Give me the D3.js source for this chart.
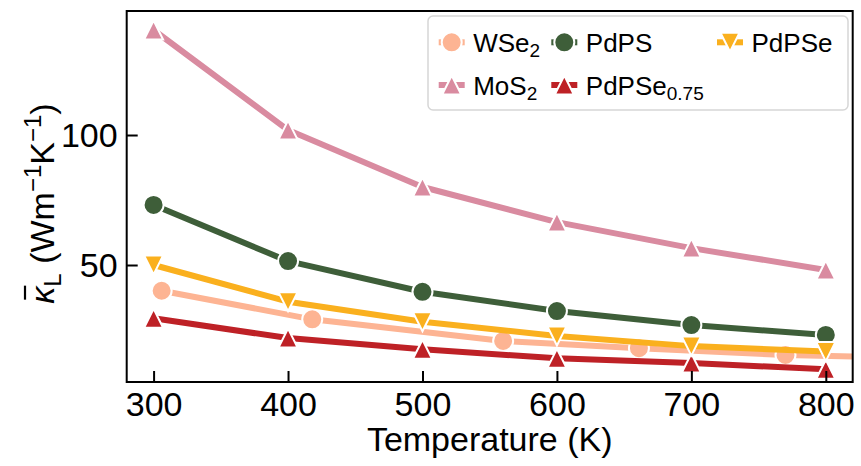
<!DOCTYPE html>
<html>
<head>
<meta charset="utf-8">
<script src="https://cdn.jsdelivr.net/npm/d3@7"></script>
<style>
  html, body { margin: 0; padding: 0; background: #fff; }
  svg text { font-family: "Liberation Sans", Arial, Helvetica, sans-serif; }
</style>
</head>
<body>
<svg id="chart" width="861" height="466"></svg>
<script>
// ---- data ----
const temps = [300, 400, 500, 600, 700, 800];
const wse2T = [306, 418, 560, 661, 770, 880];
const wse2K = [40.1, 29.1, 20.8, 18.0, 15.4, 14.0];
const mos2K = [140.4, 101.9, 80.0, 66.5, 56.5, 48.1];
const pdpsK = [73.1, 51.5, 39.7, 32.3, 26.9, 23.1];
const pdpse75K = [29.5, 21.9, 17.6, 14.1, 12.3, 9.9];
const pdpseK = [50.0, 35.9, 28.2, 22.7, 18.8, 16.7];
const xTicks = [300, 400, 500, 600, 700, 800];
const yTicks = [50, 100];

const series = [
  { name: "WSe", sub: "2", color: "#fdb493", marker: "circle", xs: wse2T, ys: wse2K, col: 0, row: 0 },
  { name: "MoS", sub: "2", color: "#d98ba0", marker: "up", xs: temps, ys: mos2K, col: 0, row: 1 },
  { name: "PdPS", sub: "", color: "#3e5e39", marker: "circle", xs: temps, ys: pdpsK, col: 1, row: 0 },
  { name: "PdPSe", sub: "0.75", color: "#be2126", marker: "up", xs: temps, ys: pdpse75K, col: 1, row: 1 },
  { name: "PdPSe", sub: "", color: "#fab01e", marker: "down", xs: temps, ys: pdpseK, col: 2, row: 0 }
];

// ---- layout ----
const L = 126.7, R = 852.7, T = 11, B = 382;
const svg = d3.select("#chart");
const x = d3.scaleLinear().domain([280, 820]).range([L, R]);
const y = d3.scaleLinear().domain([5, 147.7]).range([B, T]);

svg.append("defs").append("clipPath").attr("id", "clip")
  .append("rect").attr("x", L).attr("y", T).attr("width", R - L).attr("height", B - T);

const MS = 19;
function markerPath(type) {
  const h = MS / 2;
  if (type === "up") return `M0,${-h}L${-h},${h}L${h},${h}Z`;
  if (type === "down") return `M0,${h}L${-h},${-h}L${h},${-h}Z`;
  return null;
}
function drawMarker(g, type, cx, cy, color) {
  if (type === "circle") {
    g.append("circle").attr("cx", cx).attr("cy", cy).attr("r", MS / 2 + 0.5)
      .attr("fill", color).attr("stroke", "#fff").attr("stroke-width", 2);
  } else {
    g.append("path").attr("d", markerPath(type))
      .attr("transform", `translate(${cx},${cy})`)
      .attr("fill", color).attr("stroke", "#fff").attr("stroke-width", 2)
      .attr("stroke-linejoin", "miter");
  }
}

const plot = svg.append("g").attr("clip-path", "url(#clip)");
const line = d3.line().x(d => x(d[0])).y(d => y(d[1]));
series.forEach(s => {
  const pts = s.xs.map((v, i) => [v, s.ys[i]]);
  plot.append("path").datum(pts).attr("d", line)
    .attr("fill", "none").attr("stroke", s.color).attr("stroke-width", 6)
    .attr("stroke-linejoin", "round");
  pts.forEach(p => drawMarker(plot, s.marker, x(p[0]), y(p[1]), s.color));
});

// ---- axes ----
const xAxis = d3.axisBottom(x).tickValues(xTicks).tickSize(-11).tickPadding(10).tickFormat(d3.format("d"));
const yAxis = d3.axisLeft(y).tickValues(yTicks).tickSize(-11).tickPadding(9).tickFormat(d3.format("d"));
const gx = svg.append("g").attr("transform", `translate(0,${B})`).call(xAxis);
const gy = svg.append("g").attr("transform", `translate(${L},0)`).call(yAxis);
[gx, gy].forEach(g => {
  g.select(".domain").remove();
  g.selectAll(".tick line").attr("stroke", "#000").attr("stroke-width", 2);
  g.selectAll(".tick text").attr("fill", "#000").attr("font-size", 34)
    .style("font-family", "'Liberation Sans', Arial, sans-serif");
});
gx.selectAll(".tick text").attr("dy", "0.71em");
gy.selectAll(".tick text").attr("dy", "0.35em");

svg.append("rect").attr("x", L).attr("y", T).attr("width", R - L).attr("height", B - T)
  .attr("fill", "none").attr("stroke", "#000").attr("stroke-width", 2);

// axis labels
svg.append("text").attr("x", (L + R) / 2).attr("y", 451).attr("text-anchor", "middle")
  .attr("font-size", 34).attr("fill", "#000").text("Temperature (K)");

const ylg = svg.append("g").attr("transform", `translate(54,${(T + B) / 2 + 7}) rotate(-90)`);
const yl = ylg.append("text").attr("text-anchor", "middle").attr("font-size", 34).attr("fill", "#000");
yl.append("tspan").attr("font-style", "italic").text("κ");
yl.append("tspan").attr("font-size", 24).attr("dy", 7).text("L");
yl.append("tspan").attr("dy", -7).text(" (Wm");
yl.append("tspan").attr("font-size", 24).attr("dy", -13).text("−1");
yl.append("tspan").attr("dy", 13).text("K");
yl.append("tspan").attr("font-size", 24).attr("dy", -13).text("−1");
yl.append("tspan").attr("dy", 13).text(")");
try {
  const ext = yl.node().getExtentOfChar(0);
  ylg.append("line")
    .attr("x1", ext.x + 4).attr("x2", ext.x + ext.width + 1)
    .attr("y1", -29).attr("y2", -29)
    .attr("stroke", "#000").attr("stroke-width", 2.2);
} catch (e) {}

// ---- legend ----
const lg = svg.append("g");
lg.append("rect").attr("x", 428).attr("y", 16).attr("width", 420).attr("height", 94)
  .attr("rx", 5).attr("fill", "#fff").attr("fill-opacity", 0.8)
  .attr("stroke", "#d6d6d6").attr("stroke-width", 1.5);
const colX = [451.7, 564.3, 730];
const rowY = [42.3, 85];
series.forEach(s => {
  const cx = colX[s.col], cy = rowY[s.row];
  lg.append("line").attr("x1", cx - 13).attr("x2", cx + 13).attr("y1", cy).attr("y2", cy)
    .attr("stroke", s.color).attr("stroke-width", 6);
  drawMarker(lg, s.marker, cx, cy, s.color);
  const t = lg.append("text").attr("x", cx + 21.5).attr("y", cy + 9.5)
    .attr("font-size", 26).attr("fill", "#000");
  t.append("tspan").text(s.name);
  if (s.sub) t.append("tspan").attr("font-size", 19).attr("dy", 5).text(s.sub);
});
</script>
</body>
</html>
